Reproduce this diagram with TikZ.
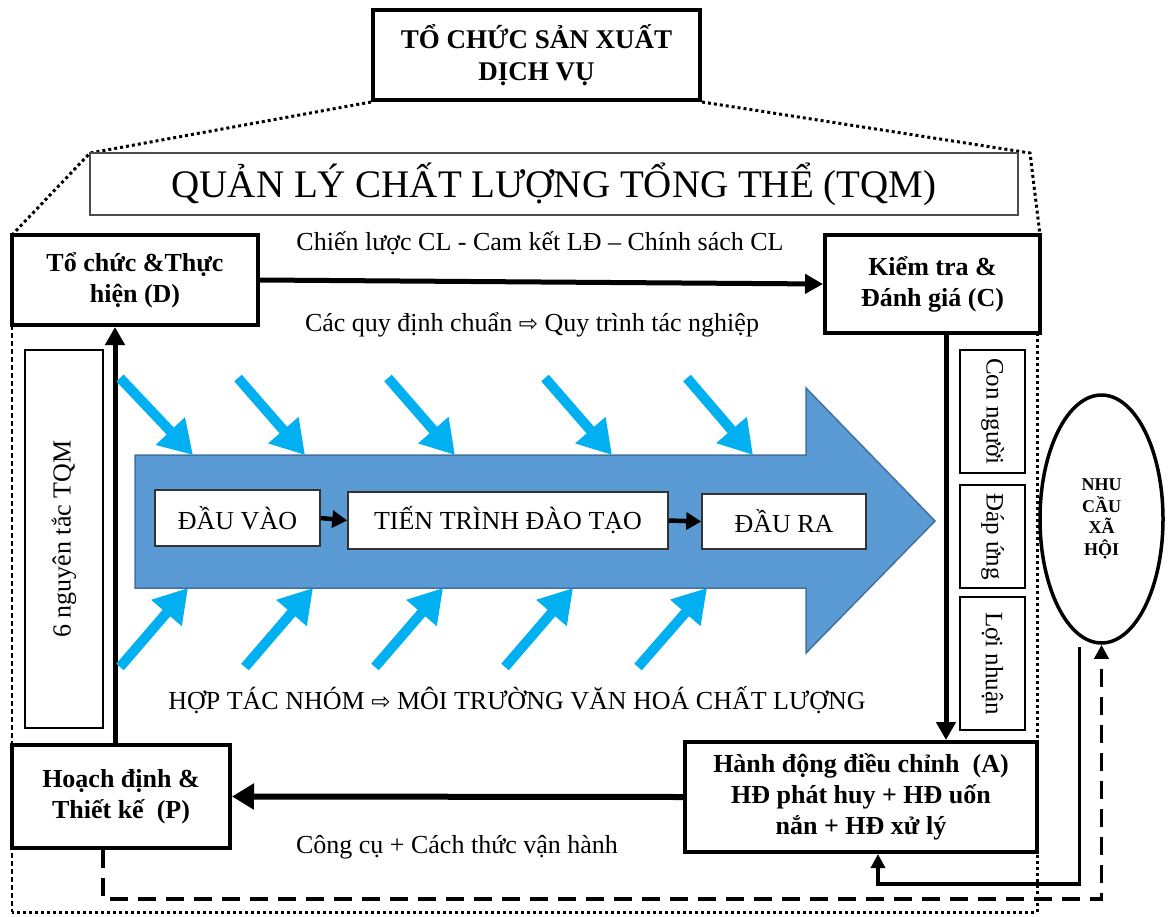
\documentclass[tikz,border=0pt]{standalone}
\usepackage{fontspec}
\setmainfont{Liberation Serif}
\newfontfamily\symf{DejaVu Sans}
\usetikzlibrary{arrows.meta,shapes.geometric}

\definecolor{flowblue}{HTML}{5B9BD5}
\definecolor{flowedge}{HTML}{41719C}
\definecolor{pushcyan}{HTML}{00B0F0}

% hollow arrow used inside the captions
\newcommand{\thenarrow}{{\symf\fontsize{23}{23}\selectfont ⇨}}

\tikzset{
  phase/.style={draw, line width=4pt, fill=white, align=center, inner sep=0pt,
    font=\bfseries\fontsize{26}{31}\selectfont},
  thinbox/.style={draw, line width=1.2pt, fill=white, inner sep=0pt,
    font=\fontsize{25}{30}\selectfont},
  stage/.style={draw=black!80, line width=1.5pt, fill=white, inner sep=0pt,
    font=\fontsize{26}{30}\selectfont},
  caption/.style={inner sep=0pt, font=\fontsize{26}{30}\selectfont},
  mainarrow/.style={line width=5pt, -{Triangle[length=18pt,width=19pt]}},
  widearrow/.style={line width=6pt, -{Triangle[length=22pt,width=25pt]}},
  steparrow/.style={line width=4.5pt, -{Triangle[length=15pt,width=17pt]}},
  push/.style={pushcyan, line width=10pt, -{Triangle[length=33pt,width=38pt]}},
  zoomline/.style={line width=3pt, dash pattern=on 3pt off 3pt},
  loopline/.style={line width=3.5pt, -{Triangle[length=14pt,width=14pt]}},
  loopdash/.style={line width=3.5pt, dash pattern=on 18pt off 10pt,
    -{Triangle[length=14pt,width=14pt]}},
}

\begin{document}
\begin{tikzpicture}[x=1pt,y=-1pt]
\useasboundingbox (0,0) rectangle (1173,916);

% ---- outer frame of the TQM system ----
\coordinate (tl) at (90,153);
\coordinate (tr) at (1030,153);
\coordinate (bl) at (12,912);
\coordinate (br) at (1037,912);

\node[phase, line width=4pt, minimum width=327pt, minimum height=90pt,
      font=\bfseries\fontsize{27}{32}\selectfont] (org) at (536.5,55)
      {TỔ CHỨC SẢN XUẤT\\DỊCH VỤ};

\draw[zoomline] (org.south west) -- (tl) -- (12,235);
\draw[zoomline] (org.south east) -- (tr) -- (1040,235);
\draw[zoomline] (1037,333) -- (br) -- (bl);
\draw[line width=1.2pt, dash pattern=on 5pt off 3pt] (12,325) -- (bl);

\node[draw=black!70, line width=1.3pt, fill=white, minimum width=928pt,
      minimum height=62pt, inner sep=0pt, font=\fontsize{39}{44}\selectfont]
      (tqm) at (554,184) {QUẢN LÝ CHẤT LƯỢNG TỔNG THỂ (TQM)};

% ---- PDCA boxes ----
\node[phase, minimum width=246pt, minimum height=90pt] (D) at (135,280)
      {Tổ chức \&Thực\\hiện (D)};
\node[phase, minimum width=215pt, minimum height=98pt] (C) at (932.5,284)
      {Kiểm tra \&\\Đánh giá (C)};
\node[phase, minimum width=218pt, minimum height=103pt] (P) at (121,796.5)
      {Hoạch định \&\\Thiết kế~ (P)};
\node[phase, minimum width=352pt, minimum height=110pt] (A) at (861,797)
      {Hành động điều chỉnh~ (A)\\HĐ phát huy + HĐ uốn\\nắn + HĐ xử lý};

\draw[mainarrow] (D.east) -- (C.west);
\draw[mainarrow] ([xshift=13.5pt]C.south) -- ([xshift=13.5pt]C.south |- A.north);
\draw[widearrow] (A.west) -- (P.east);
\draw[mainarrow] ([xshift=-6pt]P.north) -- ([xshift=-6pt]P.north |- D.south);

% ---- captions ----
\node[caption] (cap1) at (540,243) {Chiến lược CL - Cam kết LĐ – Chính sách CL};
\node[caption] (cap2) at (532,325) {Các quy định chuẩn \thenarrow{} Quy trình tác nghiệp};
\node[caption] (cap3) at (517,700) {HỢP TÁC NHÓM \thenarrow{} MÔI TRƯỜNG VĂN HOÁ CHẤT LƯỢNG};
\node[caption] (cap4) at (457,847) {Công cụ + Cách thức vận hành};

% ---- side boxes ----
\node[thinbox, rotate=90, minimum width=378pt, minimum height=78pt,
      font=\fontsize{26}{30}\selectfont] (rules)
      at (64,539) {6 nguyên tắc TQM};
\node[thinbox, rotate=-90, minimum width=123pt, minimum height=65pt] (people)
      at (992.5,411.5) {Con người};
\node[thinbox, rotate=-90, minimum width=103pt, minimum height=65pt] (meet)
      at (992.5,536.5) {Đáp ứng};
\node[thinbox, rotate=-90, minimum width=133pt, minimum height=65pt] (profit)
      at (992.5,663.5) {Lợi nhuận};

% ---- social needs ----
\node[ellipse, draw, line width=3.5pt, fill=white, minimum width=123pt,
      minimum height=248pt, inner sep=0pt, align=center,
      font=\bfseries\fontsize{18}{21.5}\selectfont] (need) at (1101.5,519)
      {NHU\\CẦU\\XÃ\\HỘI};

\draw[loopline] ([xshift=-22pt,yshift=-2pt]need.south) -- ++(0,237)
      -| ([xshift=17pt]A.south);
\draw[loopdash] ([xshift=-18pt]P.south) -- ++(0,49) -| (need.south);

% ---- training process ----
\draw[fill=flowblue, draw=flowedge, line width=1.5pt]
  (135,455) -- (806,455) -- (806,388) -- (935,521) -- (806,653)
  -- (806,588) -- (135,588) -- cycle;

\node[stage, minimum width=165pt, minimum height=56pt] (in) at (237.5,518) {ĐẦU VÀO};
\node[stage, minimum width=320pt, minimum height=57pt] (proc) at (508,520.5) {TIẾN TRÌNH ĐÀO TẠO};
\node[stage, minimum width=164pt, minimum height=55pt] (out) at (784,521.5) {ĐẦU RA};
\draw[steparrow] (in.east) -- (proc.west);
\draw[steparrow] (proc.east) -- (out.west);

% ---- influences on the process ----
\foreach \tx/\hx [count=\i] in {120/193, 238/305, 388/455, 545/612, 687/753} {
  \coordinate (ut\i) at (\tx,378);
  \coordinate (uh\i) at (\hx,455);
  \draw[push] (ut\i) -- (uh\i);
}
\foreach \tx/\hx [count=\i] in {120/188, 245/313, 375/443, 505/573, 638/707} {
  \coordinate (lt\i) at (\tx,667);
  \coordinate (lh\i) at (\hx,588);
  \draw[push] (lt\i) -- (lh\i);
}
\end{tikzpicture}
\end{document}
